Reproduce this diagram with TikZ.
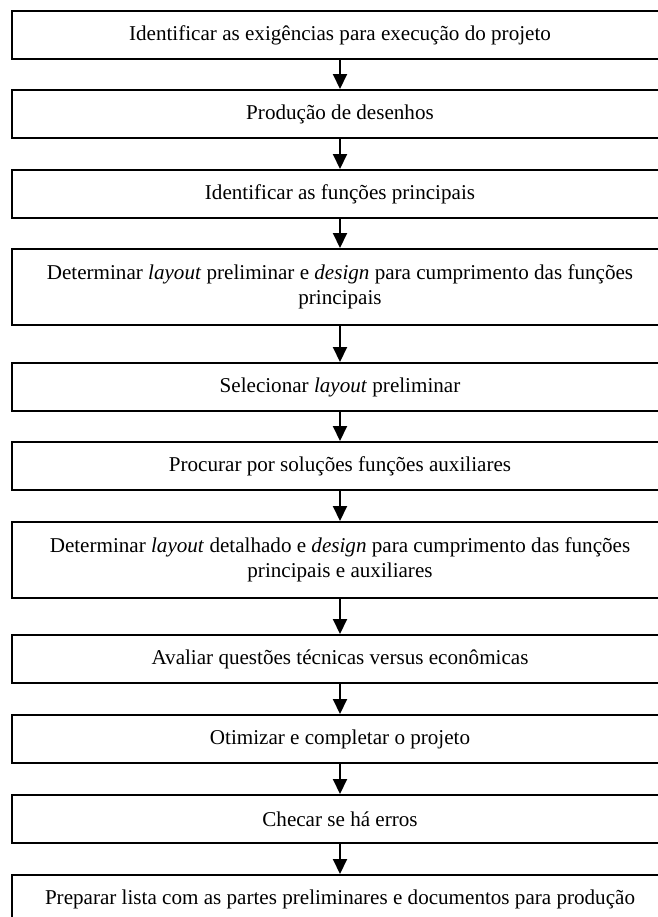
\documentclass[tikz,border=0pt]{standalone}
\usepackage{fontspec}
\setmainfont{Liberation Serif}
\usetikzlibrary{positioning, arrows.meta}
\tikzset{
    stepbox/.style={rectangle, draw=black, fill=white, line width=1.2pt, minimum width=328pt, minimum height=24pt, align=center, font=\fontsize{10.55}{12.5}\selectfont, inner sep=2pt, anchor=north},
    stepbox2/.style={stepbox, minimum height=38pt},
    arr/.style={-{Triangle[length=7.5pt, width=7pt]}, line width=1pt}
}
\begin{document}
\begin{tikzpicture}[x=1pt, y=-1pt]
    \useasboundingbox (0,0) rectangle (329,458.5);
    \clip (0,0) rectangle (329,458.5);
    \node[stepbox] (b1) at (170, 5) {Identificar as exigências para execução do projeto};
    \node[stepbox] (b2) at (170, 44.5) {Produção de desenhos};
    \node[stepbox] (b3) at (170, 84.5) {Identificar as funções principais};
    \node[stepbox2] (b4) at (170, 124) {Determinar \textit{layout} preliminar e \textit{design} para cumprimento das funções\\principais};
    \node[stepbox] (b5) at (170, 181) {Selecionar \textit{layout} preliminar};
    \node[stepbox] (b6) at (170, 220.5) {Procurar por soluções funções auxiliares};
    \node[stepbox2] (b7) at (170, 260.5) {Determinar \textit{layout} detalhado e \textit{design} para cumprimento das funções\\principais e auxiliares};
    \node[stepbox] (b8) at (170, 317) {Avaliar questões técnicas versus econômicas};
    \node[stepbox] (b9) at (170, 357) {Otimizar e completar o projeto};
    \node[stepbox] (b10) at (170, 397) {Checar se há erros};
    \node[stepbox] (b11) at (170, 437) {Preparar lista com as partes preliminares e documentos para produção};
    % setas entre as etapas
    \foreach \i [count=\j from 2] in {1,...,10}
        \draw[arr] (b\i.south) -- (b\j.north);
\end{tikzpicture}
\end{document}
